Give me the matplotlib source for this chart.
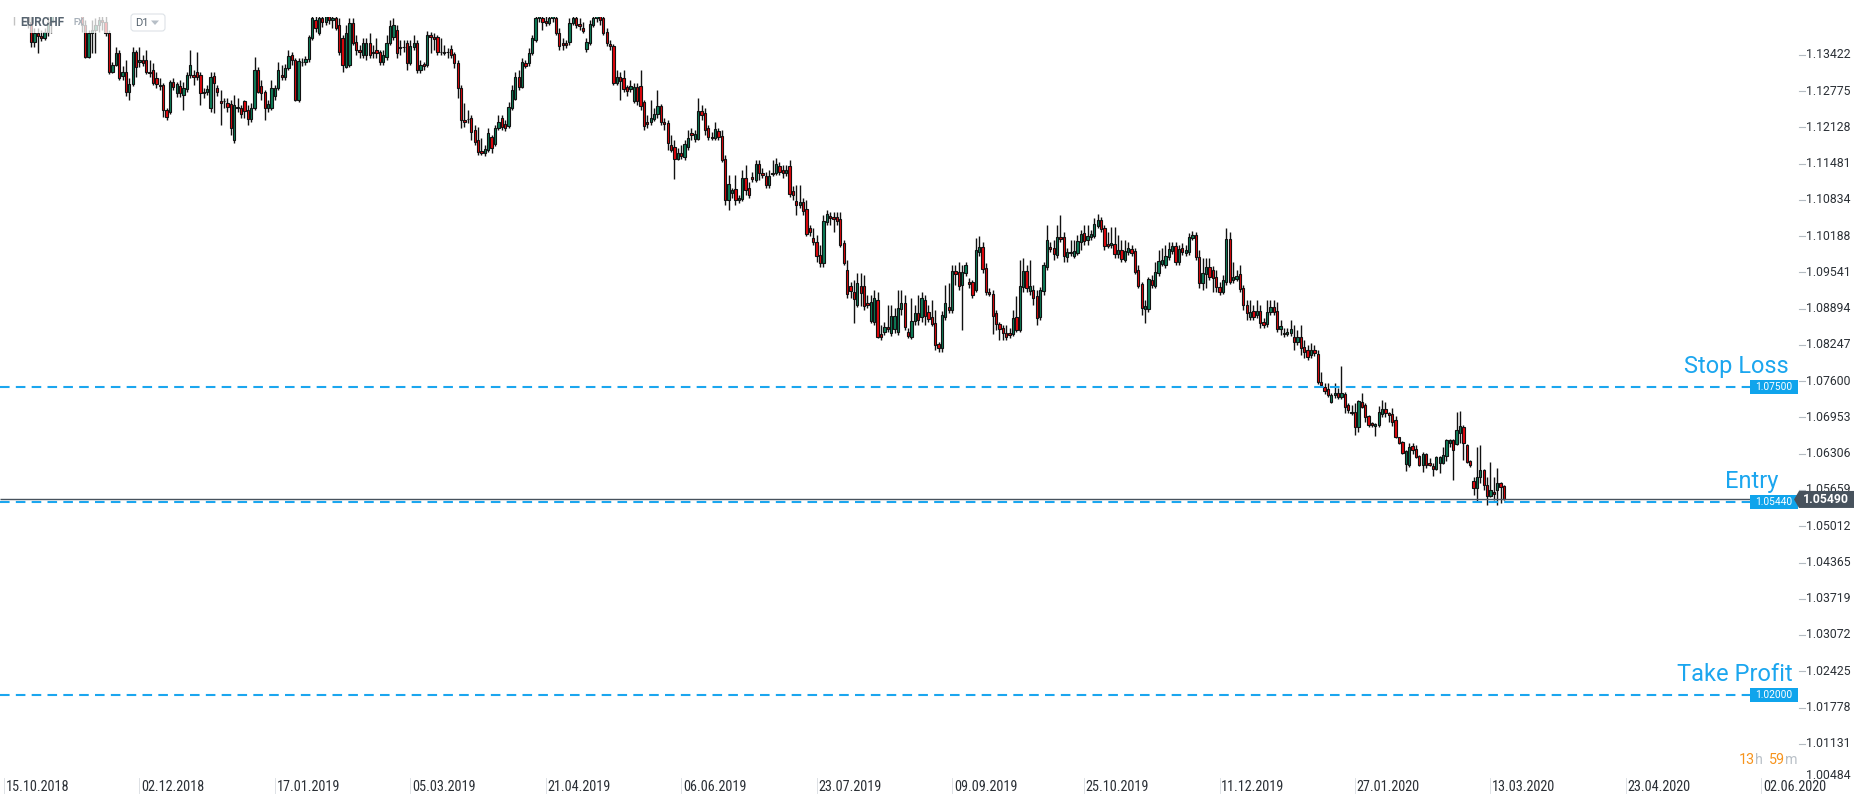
import numpy as np
import matplotlib
matplotlib.use("Agg")
import matplotlib.pyplot as plt
from matplotlib import font_manager
from matplotlib.patches import Rectangle, Polygon, FancyBboxPatch
from matplotlib.transforms import blended_transform_factory, IdentityTransform, ScaledTranslation

plt.rcParams['font.family'] = ['Roboto', 'DejaVu Sans']

# ---------------- data (prices in pips, 1 pip = 0.0001 CHF) ----------------
symbol = "EURCHF"
asset_class = "FX"
timeframe = "D1"

open_pips = [
11431,11449,11440,11422,11431,11444,11431,11419,11401,11365,11381,11376,11372,11383,11401,11419,11431,11449,11440,11454,
11440,11426,11435,11419,11395,11338,11381,11386,11395,11404,11401,11381,11312,11324,11345,11304,11312,11276,11290,11347,
11329,11333,11333,11312,11315,11301,11288,11288,11244,11240,11294,11274,11287,11271,11281,11306,11306,11312,11306,11274,
11276,11247,11304,11283,11260,11260,11256,11254,11190,11249,11247,11260,11244,11228,11247,11315,11287,11276,11247,11247,
11269,11283,11306,11303,11319,11342,11333,11262,11329,11329,11335,11372,11404,11381,11408,11401,11413,11404,11408,11395,
11372,11320,11324,11399,11365,11351,11342,11342,11363,11347,11351,11347,11329,11338,11363,11374,11386,11356,
11356,11363,11328,11356,11363,11315,11326,11324,11378,11374,11374,11347,11347,11347,11353,11344,11328,11283,11226,11228,
11229,11208,11190,11171,11167,11172,11196,11183,11212,11229,11219,11215,11247,11263,11303,11285,11328,11328,11345,11369,
11408,11408,11403,11399,11408,11408,11381,11363,11363,11365,11399,11408,11397,11390,11353,11363,11395,11408,11413,11408,
11383,11362,11358,11292,11303,11301,11285,11281,11260,11285,11287,11258,11222,11222,11228,11237,11251,11222,11221,11181,
11178,11156,11167,11160,11178,11203,11192,11192,11242,11238,11212,11196,11194,11206,11197,11156,11083,11096,11103,11083,
11085,11122,11105,11124,11119,11147,11131,11126,11110,11131,11131,11144,11137,11131,11144,11099,
11081,11074,11080,11067,11033,11015,11008,10985,10971,11044,11055,11053,11053,11049,11006,10958,10930,10919,10896,10930,
10930,10899,10867,10866,10905,10844,10848,10857,10846,10853,10848,10889,10899,10848,10839,10867,10882,10874,10905,10883,
10874,10864,10826,10819,10874,10892,10887,10957,10955,10932,10953,10937,10937,10923,10990,10999,10962,10919,10916,10882,
10862,10855,10846,10846,10844,10874,10851,10928,10957,10921,10923,10912,10874,10921,10964,10999,10998,
10985,11017,11017,10982,10990,10983,10989,11008,11024,11012,11017,11019,11037,11048,11033,11005,11003,11005,10987,10994,
10976,10990,10996,10992,10958,10933,10889,10889,10940,10930,10953,10969,10967,10982,10992,11001,10973,10998,10989,10990,
11015,11021,10982,10935,10951,10964,10958,10946,10928,10919,10937,11014,10940,10942,10951,10926,10896,10874,10885,10878,
10885,10866,10862,10883,10892,10885,10853,10846,10844,10846,10839,10830,10839,10821,
10816,10807,10816,10808,10758,10750,10746,10723,10735,10739,10732,10737,10717,10705,10705,10678,10723,10717,10698,10685,
10680,10682,10701,10710,10703,10701,10691,10660,10651,10612,10610,10644,10639,10627,10610,10630,10614,10609,10603,10614,
10614,10627,10650,10655,10648,10667,10678,10646,10618,10582,10569,10589,10602,10575,10555,10562,10566,10578,10573]

high_pips = [
11461,11458,11449,11440,11454,11451,11440,11431,11413,11390,11390,11386,11390,11413,11431,11444,11458,11461,11467,11465,
11449,11444,11444,11431,11404,11386,11404,11408,11422,11419,11413,11386,11329,11356,11351,11322,11333,11301,11356,11351,
11356,11342,11351,11333,11328,11312,11301,11292,11247,11297,11301,11294,11297,11294,11312,11351,11315,11347,11312,11283,
11288,11312,11312,11288,11279,11265,11265,11262,11271,11265,11253,11262,11253,11256,11338,11320,11297,11279,11262,11297,
11288,11329,11324,11326,11351,11347,11337,11337,11337,11340,11378,11422,11422,11431,11431,11431,11440,11431,11431,11408,
11378,11395,11408,11408,11378,11360,11372,11372,11381,11360,11372,11351,11351,11378,11404,11408,11395,11369,
11369,11369,11369,11378,11369,11333,11329,11385,11383,11381,11378,11372,11360,11354,11360,11347,11333,11288,11256,11244,
11235,11217,11213,11194,11181,11212,11199,11217,11235,11235,11226,11258,11288,11312,11315,11337,11333,11354,11378,11431,
11431,11422,11422,11426,11431,11422,11390,11372,11369,11408,11426,11422,11408,11401,11372,11404,11431,11431,11431,11422,
11390,11369,11362,11315,11312,11315,11288,11297,11292,11292,11315,11262,11235,11262,11247,11279,11254,11229,11226,11199,
11190,11176,11181,11190,11208,11212,11208,11265,11253,11247,11217,11205,11222,11212,11208,11163,11128,11105,11128,11092,
11137,11146,11115,11133,11154,11154,11140,11133,11137,11154,11158,11151,11146,11146,11154,11108,
11110,11110,11087,11083,11039,11033,11021,11003,11056,11065,11062,11062,11062,11062,11012,10976,10937,10940,10953,10953,
10949,10914,10914,10923,10919,10860,10866,10896,10896,10890,10923,10923,10914,10855,10908,10896,10914,10919,10914,10896,
10905,10887,10830,10885,10932,10935,10967,10967,10973,10967,10973,10944,10940,11015,11019,11008,10971,10926,10923,10887,
10866,10860,10860,10855,10887,10912,10976,10980,10967,10976,10932,10923,10928,10973,11039,11008,11012,
11039,11056,11026,10998,11012,11012,11021,11030,11039,11039,11030,11051,11058,11053,11039,11026,11035,11035,11021,11012,
11012,11008,11003,10998,10967,10937,10905,10946,10949,10973,10994,10998,11003,11008,11008,11008,11003,11006,11003,11024,
11028,11026,10994,10980,10980,10980,10965,10958,10937,10949,11033,11026,10973,10958,10967,10932,10905,10905,10896,10905,
10896,10873,10905,10905,10905,10901,10869,10855,10855,10869,10860,10851,10860,10833,
10825,10828,10825,10816,10776,10757,10757,10739,10757,10748,10787,10741,10721,10717,10721,10726,10739,10721,10699,10687,
10685,10716,10726,10723,10705,10712,10698,10661,10653,10637,10650,10650,10646,10628,10634,10632,10623,10614,10627,10627,
10643,10657,10657,10657,10705,10707,10682,10648,10619,10589,10643,10646,10603,10589,10616,10589,10605,10580,10575]

low_pips = [
11422,11426,11415,11395,11422,11419,11411,11390,11356,11356,11345,11367,11369,11376,11381,11411,11422,11426,11431,11429,
11415,11419,11411,11383,11337,11337,11345,11345,11383,11386,11376,11308,11310,11322,11297,11297,11269,11262,11287,11303,
11320,11322,11308,11303,11288,11283,11279,11231,11226,11237,11279,11267,11267,11244,11276,11301,11288,11297,11253,11265,
11271,11240,11238,11269,11217,11247,11240,11199,11185,11240,11229,11229,11217,11222,11244,11274,11262,11226,11240,11244,
11262,11279,11297,11297,11315,11324,11260,11258,11322,11324,11329,11369,11383,11378,11392,11395,11397,11390,11386,11342,
11312,11319,11320,11360,11342,11337,11337,11333,11337,11337,11337,11324,11324,11333,11360,11369,11337,11342,
11347,11315,11324,11351,11310,11310,11315,11320,11345,11351,11342,11342,11342,11337,11337,11319,11265,11212,11213,11221,
11190,11181,11163,11163,11162,11169,11167,11180,11208,11208,11206,11212,11244,11262,11279,11283,11319,11322,11342,11365,
11401,11386,11394,11395,11401,11378,11351,11351,11354,11360,11395,11390,11386,11381,11347,11360,11392,11401,11395,11378,
11358,11351,11288,11288,11262,11276,11269,11276,11256,11253,11244,11208,11212,11217,11224,11229,11217,11208,11172,11169,
11121,11154,11156,11154,11172,11190,11187,11190,11226,11199,11190,11190,11190,11190,11151,11074,11065,11087,11074,11078,
11081,11092,11087,11115,11115,11119,11122,11105,11105,11126,11128,11128,11122,11126,11089,11083,
11056,11069,11056,11019,11019,11003,10973,10964,10964,11039,11039,11026,11039,10999,10967,10908,10908,10864,10892,10894,
10887,10890,10864,10860,10837,10833,10842,10848,10841,10846,10842,10878,10851,10837,10835,10860,10860,10866,10860,10866,
10858,10816,10812,10812,10869,10882,10882,10932,10923,10851,10948,10926,10908,10919,10983,10953,10914,10912,10844,10851,
10833,10833,10833,10837,10841,10848,10848,10919,10919,10914,10896,10860,10869,10914,10958,10990,10976,
10980,11008,10973,10973,10983,10980,10985,10994,11003,11003,11012,11015,11033,11026,10994,10998,10998,10980,10980,10973,
10973,10985,10983,10951,10926,10878,10864,10883,10926,10926,10948,10965,10962,10976,10987,10967,10967,10985,10983,10985,
11012,10976,10926,10923,10926,10940,10919,10919,10914,10916,10932,10933,10935,10939,10919,10887,10869,10869,10869,10873,
10855,10855,10857,10878,10878,10848,10842,10839,10841,10841,10816,10825,10807,10801,
10798,10801,10805,10755,10750,10737,10732,10721,10730,10728,10728,10703,10703,10700,10664,10669,10712,10687,10678,10678,
10662,10678,10696,10696,10687,10680,10659,10648,10630,10600,10607,10630,10623,10609,10598,10605,10609,10591,10602,10596,
10613,10618,10643,10584,10646,10650,10619,10614,10607,10557,10544,10578,10566,10539,10553,10548,10539,10543,10548]

close_pips = [
11449,11440,11422,11431,11444,11431,11419,11401,11365,11381,11376,11372,11383,11401,11419,11431,11449,11440,11454,11440,
11426,11435,11419,11395,11338,11381,11386,11395,11404,11401,11381,11312,11324,11345,11301,11312,11276,11290,11347,11320,
11333,11328,11312,11310,11292,11290,11287,11244,11231,11294,11285,11290,11274,11283,11306,11324,11303,11303,11274,11276,
11281,11303,11292,11276,11256,11259,11249,11212,11253,11247,11237,11242,11228,11247,11315,11276,11274,11247,11254,11283,
11283,11315,11303,11319,11340,11333,11262,11331,11330,11335,11374,11408,11390,11408,11401,11413,11404,11408,11390,11347,
11324,11381,11399,11363,11351,11347,11363,11363,11342,11346,11345,11329,11342,11363,11394,11395,11345,11355,
11357,11328,11358,11363,11315,11324,11322,11378,11374,11370,11347,11348,11346,11347,11342,11328,11283,11226,11222,11227,
11205,11187,11169,11167,11174,11203,11176,11212,11222,11213,11212,11249,11279,11303,11285,11329,11322,11345,11372,11408,
11413,11401,11399,11408,11413,11381,11358,11360,11359,11399,11408,11395,11394,11385,11365,11397,11408,11413,11404,11381,
11363,11358,11292,11303,11295,11281,11278,11287,11285,11260,11251,11215,11219,11229,11237,11251,11222,11219,11185,11172,
11156,11167,11162,11183,11194,11199,11201,11242,11235,11208,11196,11194,11210,11196,11154,11083,11112,11101,11083,11087,
11122,11101,11092,11121,11147,11131,11128,11110,11126,11130,11147,11133,11131,11137,11094,11092,
11074,11080,11064,11023,11026,11008,10983,10971,11046,11058,11051,11049,11046,11003,10971,10915,10921,10907,10935,10917,
10894,10896,10901,10908,10839,10839,10857,10853,10876,10876,10890,10899,10857,10841,10867,10882,10869,10908,10876,10871,
10862,10825,10819,10878,10899,10887,10957,10951,10930,10955,10967,10933,10914,10994,10999,10960,10919,10916,10876,10862,
10853,10846,10839,10842,10873,10851,10930,10957,10926,10930,10908,10873,10923,10967,11012,10996,10987,
11017,11014,10983,10990,10989,10992,11010,11023,11010,11019,11023,11040,11048,11031,11001,11001,11006,10987,10994,10978,
10992,10998,10989,10955,10930,10891,10894,10942,10932,10955,10974,10976,10983,10996,11001,10973,10996,10990,10994,11017,
11021,10982,10935,10953,10964,10946,10944,10928,10919,10940,11014,10937,10946,10948,10924,10896,10882,10883,10874,10885,
10864,10860,10883,10892,10883,10853,10858,10844,10848,10853,10830,10839,10819,10812,
10803,10816,10810,10758,10753,10742,10735,10735,10739,10732,10739,10714,10709,10703,10678,10725,10714,10696,10682,10682,
10684,10705,10710,10703,10700,10687,10660,10650,10632,10635,10643,10637,10625,10610,10630,10610,10610,10603,10625,10625,
10628,10655,10655,10637,10673,10680,10650,10616,10610,10569,10589,10602,10575,10555,10566,10559,10578,10571,10549]

date_labels = ["15.10.2018", "02.12.2018", "17.01.2019", "05.03.2019", "21.04.2019", "06.06.2019",
               "23.07.2019", "09.09.2019", "25.10.2019", "11.12.2019", "27.01.2020", "13.03.2020",
               "23.04.2020", "02.06.2020"]
date_bar_pos = [0, 40, 80, 120, 160, 200, 240, 280, 319, 359, 399, 439, 479, 519]

price_ticks = [1.13422, 1.12775, 1.12128, 1.11481, 1.10834, 1.10188, 1.09541, 1.08894, 1.08247,
               1.07600, 1.06953, 1.06306, 1.05659, 1.05012, 1.04365, 1.03719, 1.03072, 1.02425,
               1.01778, 1.01131, 1.00484]

level_names = ["Stop Loss", "Entry", "Take Profit"]
level_values = [1.07500, 1.05440, 1.02000]
last_price = 1.05490
countdown_parts = ["13", "h", "59", "m"]

# ---------------- styling / layout ----------------
W, H = 1866, 805
AX_RIGHT_PX, AX_TOP_PX = 1798, 17
BAR_PX, X0_PX = 3.386, 4.0
UP_COLOR, DOWN_COLOR = '#0d7d58', '#e1060c'
LEVEL_COLOR = '#1ba6ef'
BOX_COLOR = '#0fa4ec'
LAST_COLOR = '#47525d'
TEXT_COLOR = '#2b3036'

avail = {f.name for f in font_manager.fontManager.ttflist}
date_font = 'Roboto'
for cand in ['Roboto Condensed', 'Liberation Sans Narrow']:
    if cand in avail:
        date_font = cand
        break

opens = np.array(open_pips) / 10000.0
highs = np.array(high_pips) / 10000.0
lows = np.array(low_pips) / 10000.0
closes = np.array(close_pips) / 10000.0
idx = np.arange(len(closes))

fig = plt.figure(figsize=(W / 100, H / 100), dpi=100)
fig.patch.set_facecolor('white')
ax = fig.add_axes([0, 0, AX_RIGHT_PX / W, (H - AX_TOP_PX) / H])
ax.axis('off')
ax.set_xlim(-X0_PX / BAR_PX, (AX_RIGHT_PX - X0_PX) / BAR_PX)
ax.set_ylim(1.00039, 1.14097)
ppu = (H - AX_TOP_PX) / (1.14097 - 1.00039)   # pixels per price unit


def xd(px):
    return (px - X0_PX) / BAR_PX


# candles
up = closes >= opens
colors = np.where(up, UP_COLOR, DOWN_COLOR)
ax.vlines(idx, lows, highs, color='#111111', linewidth=1.0, zorder=2)
ax.bar(idx, np.abs(closes - opens), bottom=np.minimum(opens, closes), width=0.68,
       color=colors, edgecolor='#111111', linewidth=0.8, zorder=3)

# level lines
trans = blended_transform_factory(fig.transFigure, ax.transData)
name_right_px = [1789, 1778, 1793]
for name, val, rpx in zip(level_names, level_values, name_right_px):
    ax.hlines(val, xd(0), xd(1750), colors=LEVEL_COLOR, linewidth=1.5,
              linestyles=(0, (4.6, 3.0)), zorder=4)
    ax.add_patch(Rectangle((1750 / W, val - 7 / ppu), 48 / W, 14 / ppu, transform=trans,
                           facecolor=BOX_COLOR, edgecolor='none', zorder=6, clip_on=False))
    ax.text(1774 / W, val, f"{val:.5f}", transform=trans, ha='center', va='center',
            fontsize=7.3, color='white', zorder=7)
    ax.text(rpx / W, val + 14 / ppu, name, transform=trans, ha='right', va='baseline',
            fontsize=17, color=LEVEL_COLOR, zorder=7)

# last price line + label
ax.hlines(last_price, xd(0), xd(1796), colors=LAST_COLOR, linewidth=1.0, zorder=5)

# price axis labels
for v in price_ticks:
    if v == price_ticks[-1]:
        t = trans + ScaledTranslation(0, 5 / 100, fig.dpi_scale_trans)
    else:
        t = trans
        ax.plot([1799 / W, 1805 / W], [v, v], transform=trans, color='#b4bbc2',
                linewidth=0.8, clip_on=False)
    ax.text(1806 / W, v, f"{v:.5f}", transform=t, ha='left', va='center',
            fontsize=8.8, color=TEXT_COLOR)

hh = 8.5 / ppu
poly = Polygon([(1794 / W, last_price), (1799 / W, last_price + hh), (1854 / W, last_price + hh),
                (1854 / W, last_price - hh), (1799 / W, last_price - hh)], closed=True,
               transform=trans, facecolor=LAST_COLOR, edgecolor='none', zorder=8, clip_on=False)
ax.add_patch(poly)
ax.text(1826 / W, last_price, f"{last_price:.5f}", transform=trans, ha='center', va='center',
        fontsize=8.8, fontweight='bold', color='white', zorder=9)

# date axis
tdate = blended_transform_factory(ax.transData, ax.transAxes)
y_lab = (H - 787) / (H - AX_TOP_PX)
for lab, pos in zip(date_labels, date_bar_pos):
    ax.plot([pos, pos], [(H - 793) / (H - AX_TOP_PX), (H - 778) / (H - AX_TOP_PX)],
            transform=tdate, color='#dde1e5', linewidth=0.7, clip_on=False)
    ax.text(pos + 0.5, y_lab, lab, transform=tdate, ha='left', va='center',
            fontsize=10.3, color=TEXT_COLOR, family=[date_font, 'DejaVu Sans'])

# header (symbol / timeframe) with translucent strip
PX = IdentityTransform()
fig.add_artist(Rectangle((0, H - 33), 112, 16, transform=PX, facecolor='white',
                         edgecolor='none', alpha=0.75, zorder=10))
fig.text(20, H - 22.5, symbol, transform=PX, fontsize=8.5, fontweight='bold',
         color='#56636f', va='center', ha='left', zorder=11)
fig.text(73, H - 22.5, asset_class, transform=PX, fontsize=6.3, fontweight='bold',
         color='#a7b0b9', va='center', ha='left', zorder=11)
fig.add_artist(FancyBboxPatch((131, H - 31), 34, 17, boxstyle='round,pad=0,rounding_size=3',
                              transform=PX, facecolor='white', edgecolor='#dde2e7',
                              linewidth=0.8, zorder=11))
fig.text(135, H - 22.5, timeframe, transform=PX, fontsize=8, color='#56636f',
         va='center', ha='left', zorder=12)
fig.add_artist(Polygon([(151, H - 20.5), (159, H - 20.5), (155, H - 25)], closed=True,
                       transform=PX, facecolor='#b7bfc7', edgecolor='none', zorder=12))

# countdown
cd_x = [1739, 1755, 1769, 1785]
cd_col = ['#f7941d', '#b9c0c7', '#f7941d', '#b9c0c7']
for part, xpx, col in zip(countdown_parts, cd_x, cd_col):
    fig.text(xpx, H - 760, part, transform=PX, fontsize=10.3, color=col, va='center', ha='left')

fig.savefig('out.png', dpi=100, facecolor='white')
